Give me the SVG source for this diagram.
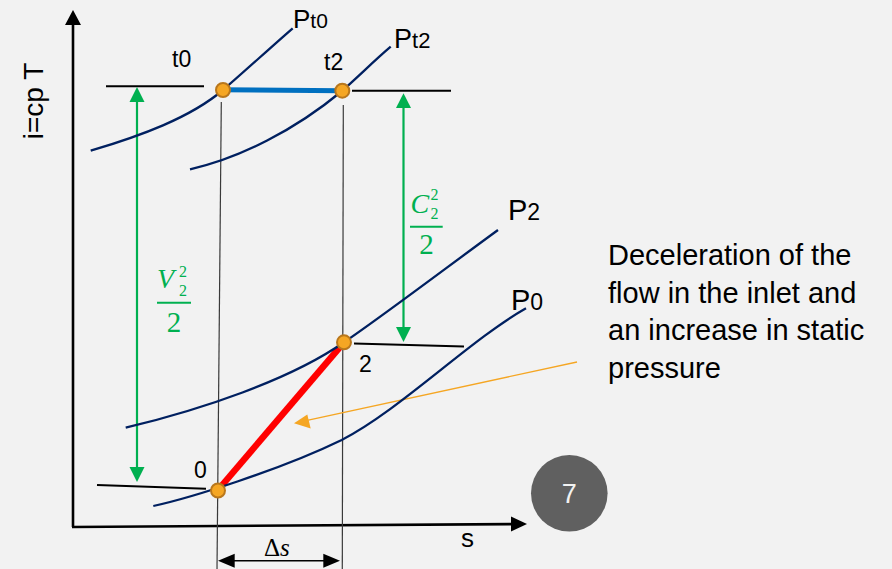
<svg xmlns="http://www.w3.org/2000/svg" width="892" height="569" viewBox="0 0 892 569">
<style>
.curve{fill:none;stroke:#002060;stroke-width:2.3}
.hl{stroke:#000;stroke-width:2;fill:none}
.thin{stroke:#3a3a3a;stroke-width:1.2;fill:none}
.axis{stroke:#000;stroke-width:2.6;fill:none}
.grn{stroke:#00b050;stroke-width:2.2;fill:none}
.gh{fill:#00b050}
.pt{fill:#f5a623;stroke:#b9771c;stroke-width:2}
.lbl{font-family:"Liberation Sans",Arial,sans-serif;fill:#000}
.math{font-family:"Liberation Serif","DejaVu Serif",serif;fill:#00b050}
</style>
<rect width="892" height="569" fill="#f2f2f2"/>
<g id="connectors">
  <path id="axis-y" class="axis" d="M73,527 L73,22"/>
  <polygon points="73,10 65,25 81,25" fill="#000"/>
  <path id="axis-x" class="axis" d="M72,527 L514,524.1"/>
  <polygon points="527,524 511,516.5 511,531.5" fill="#000"/>
  <path class="thin" d="M221.3,102 L217,569"/>
  <path class="thin" d="M343.3,105 L342.3,569"/>
  <path class="hl" d="M106,86.3 L204,86.3"/>
  <path class="hl" d="M352,90.7 L451,90.7"/>
  <path class="hl" d="M97,485 L206,488.8"/>
  <path class="hl" d="M354,343.5 L464,346.5"/>
  <path class="grn" d="M137,100 L137,468"/>
  <polygon class="gh" points="137,87 129.5,102 144.5,102"/>
  <polygon class="gh" points="137,482 129.5,467 144.5,467"/>
  <path class="grn" d="M403.5,106 L403.5,328"/>
  <polygon class="gh" points="403.5,93.3 396,108 411,108"/>
  <polygon class="gh" points="403.5,342 396,327 411,327"/>
  <path d="M222,89.8 L342,90.7" stroke="#0070c0" stroke-width="5" fill="none"/>
  <path d="M218,490 L344,342.3" stroke="#ff0000" stroke-width="6.5" fill="none"/>
  <path d="M577,362 L306,420.6" stroke="#f5a623" stroke-width="1.3" fill="none"/>
  <polygon points="294,423.3 307.3,414.5 310.7,428.5" fill="#f5a623"/>
  <path d="M233,560.7 L325,560.7" stroke="#000" stroke-width="1.6" fill="none"/>
  <polygon points="218,560.7 234.7,553.7 234.7,567.7" fill="#000"/>
  <polygon points="340,560.7 323.3,553.7 323.3,567.7" fill="#000"/>
</g>
<g id="curve-Pt0"><path class="curve" d="M90.7,150.7 C140,136 190,118 223,90 C245,71 270,48 292.7,28.3"/></g>
<g id="curve-Pt2"><path class="curve" d="M190,169.3 C240,158 295,130 342,91 C360,75 375,60 390.7,46.7"/></g>
<g id="curve-P2"><path class="curve" d="M125.7,427.7 C200,410 290,380 344,342.3 C380,318 450,265 498,230"/></g>
<g id="curve-P0"><path class="curve" d="M153.3,506 C190,498 280,470 341.7,440 C400,410 470,340 526,308.3"/></g>
<g id="point-t0"><circle class="pt" cx="223" cy="90" r="7"/><text class="lbl" x="172" y="67" font-size="23">t0</text></g>
<g id="point-t2"><circle class="pt" cx="342.3" cy="90.7" r="7"/><text class="lbl" x="324" y="70" font-size="23">t2</text></g>
<g id="point-2"><circle class="pt" cx="344" cy="342.3" r="7"/><text class="lbl" x="359" y="372" font-size="23">2</text></g>
<g id="point-0"><circle class="pt" cx="218" cy="490.5" r="7"/><text class="lbl" x="194" y="477.5" font-size="23">0</text></g>
<g id="labels">
  <text class="lbl" font-size="28" text-anchor="middle" transform="translate(43.3,101) rotate(-90)">i=cp T</text>
  <text class="lbl" x="293" y="28.3" font-size="26">P<tspan font-size="21">t0</tspan></text>
  <text class="lbl" x="394" y="47.7" font-size="27">P<tspan font-size="22">t2</tspan></text>
  <text class="lbl" x="508" y="220" font-size="29">P<tspan font-size="23">2</tspan></text>
  <text class="lbl" x="511" y="310" font-size="29">P<tspan font-size="23">0</tspan></text>
  <text class="lbl" x="461" y="547" font-size="26">s</text>
  <text x="264" y="556" font-family="'Liberation Serif','DejaVu Serif',serif" font-size="25" fill="#000">Δ<tspan font-style="italic">s</tspan></text>
  <g id="frac-V">
    <text class="math" x="157" y="288.3" font-size="28" font-style="italic">V</text>
    <text class="math" x="179" y="277" font-size="16">2</text>
    <text class="math" x="179" y="296" font-size="16">2</text>
    <path d="M157,302.7 L191,302.7" stroke="#00b050" stroke-width="2"/>
    <text class="math" x="174" y="331.7" font-size="29" text-anchor="middle">2</text>
  </g>
  <g id="frac-C">
    <text class="math" x="410.5" y="213.3" font-size="28" font-style="italic">C</text>
    <text class="math" x="430.5" y="200" font-size="16">2</text>
    <text class="math" x="430.5" y="219" font-size="16">2</text>
    <path d="M410,226.7 L442.7,226.7" stroke="#00b050" stroke-width="2"/>
    <text class="math" x="426.5" y="254" font-size="29" text-anchor="middle">2</text>
  </g>
  <g id="note" class="lbl" font-size="29">
    <text x="608" y="265">Deceleration of the</text>
    <text x="608" y="302.5">flow in the inlet and</text>
    <text x="608" y="340">an increase in static</text>
    <text x="608" y="377.5">pressure</text>
  </g>
</g>
<g id="badge-7">
  <circle cx="569.3" cy="493.3" r="38.3" fill="#606060"/>
  <text x="569.3" y="503" font-family="'Liberation Sans',Arial,sans-serif" font-size="27" fill="#f2f2f2" text-anchor="middle">7</text>
</g>
</svg>
